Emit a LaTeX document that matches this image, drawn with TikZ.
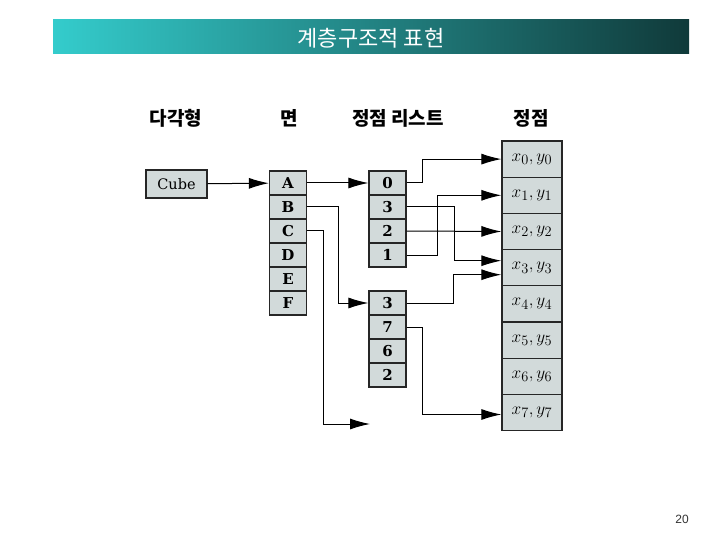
\documentclass[tikz,border=0pt]{standalone}
\usepackage{fontspec}
\newfontfamily\kr{Noto Sans CJK KR}
\newfontfamily\pagefont{Liberation Sans}
\newfontfamily\cellfont{DejaVu Serif}
\usetikzlibrary{arrows.meta}
\definecolor{cellgray}{RGB}{210,218,218}
\definecolor{barleft}{RGB}{52,204,204}
\definecolor{barmid}{RGB}{44,178,178}
\definecolor{barright}{RGB}{16,58,58}
\begin{document}
\begin{tikzpicture}[x=1pt,y=-1pt,
  cell/.style={draw=black!85, line width=1.3pt, fill=cellgray, minimum width=37pt, minimum height=24pt, inner sep=0pt, font=\cellfont\bfseries\fontsize{15}{15}\selectfont},
  vcell/.style={draw=black!85, line width=1.3pt, fill=cellgray, minimum width=60pt, minimum height=36.2pt, inner sep=0pt, font=\fontsize{19}{19}\selectfont},
  head/.style={font=\kr\bfseries\fontsize{19}{19}\selectfont},
  arr/.style={line width=1pt, -{Latex[length=20pt,width=11pt]}}]
\useasboundingbox (0,0) rectangle (720,540);
\fill[white] (0,0) rectangle (720,540);
% title bar
\shade[left color=barleft, middle color=barmid, right color=barright] (53,20) rectangle (689,54);
\node[text=white, font=\kr\fontsize{22}{22}\selectfont] (title) at (371,38) {계층구조적 표현};
% headers
\node[head] (h1) at (176,118) {다각형};
\node[head] (h2) at (289,118) {면};
\node[head] (h3) at (398,118) {정점 리스트};
\node[head] (h4) at (531,118) {정점};
% cube
\node[cell, minimum width=61pt, minimum height=28pt, font=\cellfont\fontsize{14.5}{14.5}\selectfont] (cube) at (176.5,184) {Cube};
% faces
\foreach \n/\t [count=\i from 0] in {A/A,B/B,C/C,D/D,E/E,F/F}
  \node[cell] (\n) at (288,183+24*\i) {\t};
% vertex list 1
\foreach \t [count=\i from 0] in {0,3,2,1}
  \node[cell] (L\i) at (387.5,183+24*\i) {\t};
% vertex list 2
\foreach \t [count=\i from 0] in {3,7,6,2}
  \node[cell] (M\i) at (387.5,303+24*\i) {\t};
% vertices
\foreach \i in {0,...,7}
  \node[vcell] (V\i) at (532,159.1+36.2*\i) {$x_{\i}, y_{\i}$};
% connectors
\draw[arr] (cube) -- (A);
\draw[arr] (A) -- (L0);
\draw[arr] (B.east) -- ++(31,0) |- (M0.west);
\coordinate (cend) at (370,424);
\draw[arr] (C.east) -- ++(16,0) |- (cend);
\draw[arr] (L0.east) -- ++(16,0) |- (V0.west);
\draw[arr] (L3.east) -- ++(31,0) |- (V1.west);
\draw[arr] (L1.east) -- ++(48,0) |- ([yshift=7pt]V3.west);
\draw[arr] (L2.east) -- (V2.west);
\draw[arr] (M0.east) -- ++(47,0) |- ([yshift=-7pt]V3.west);
\draw[arr] (M1.east) -- ++(16,0) |- ([yshift=-2pt]V7.west);
% page number
\node[font=\pagefont\fontsize{12}{12}\selectfont, text=black!80] (pg) at (682,519) {20};
\end{tikzpicture}
\end{document}
